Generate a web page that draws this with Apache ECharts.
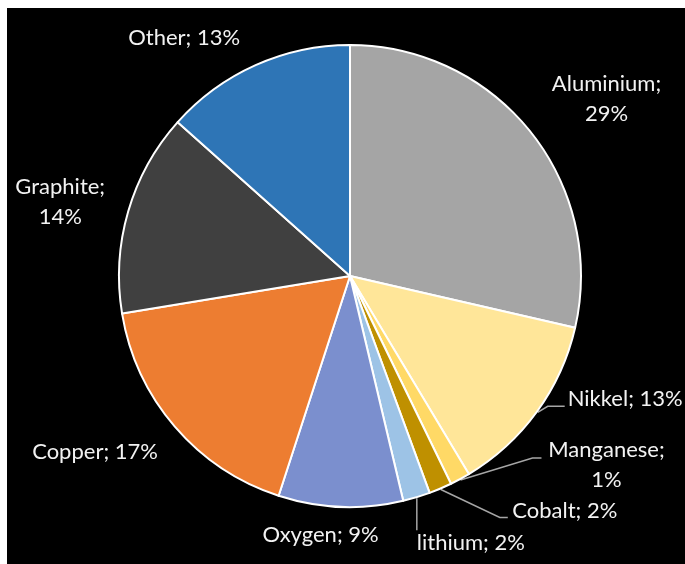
<!DOCTYPE html>
<html><head><meta charset="utf-8">
<script src="https://cdn.jsdelivr.net/npm/echarts@6/dist/echarts.min.js"></script>
<style>
html,body{margin:0;padding:0;background:#fff;width:685px;height:564px;overflow:hidden}
#bg{position:absolute;left:7px;top:8px;width:678px;height:556px;background:#000}
#chart{position:absolute;left:0;top:0;width:685px;height:564px}
</style></head><body>
<div id="bg"></div><div id="chart"></div>
<script>
// ---- data ----
const categories = ['Aluminium', 'Nikkel', 'Manganese', 'Cobalt', 'lithium', 'Oxygen', 'Copper', 'Graphite', 'Other'];
const values = [28.6, 12.8, 1.4, 1.6, 1.9, 8.7, 17.4, 14.2, 13.4];

// ---- style ----
const colors = ['#A5A5A5', '#FFE699', '#FFD966', '#BF9000', '#9DC3E6', '#7B8FCE', '#ED7D31', '#404040', '#2E75B6'];
const CX = 350, CY = 276, R = 231;
const wrapNames = ['Aluminium', 'Graphite', 'Manganese'];
// label anchor offset from the rim point at each slice's mid-angle
const labelOffsets = [[75, -33], [30, -13], [146, -15], [124, 21], [54, 45], [-20, 27], [-79, 25], [-67, -9], [-71, -26]];
const labelAligns = ['center', 'left', 'center', 'center', 'center', 'center', 'center', 'center', 'center'];
const hasLeader = [false, true, true, true, true, false, false, false, false];

const total = values.reduce((a, b) => a + b, 0);
const midAngles = [];
let acc = 0;
values.forEach(v => { midAngles.push((acc + v / 2) / total * 2 * Math.PI); acc += v; });
function rimPoint(i, r) {
  const a = midAngles[i];
  return [CX + r * Math.sin(a), CY - r * Math.cos(a)];
}

const chart = echarts.init(document.getElementById('chart'));
chart.setOption({
  backgroundColor: 'transparent',
  animation: false,
  series: [{
    type: 'pie',
    center: [CX, CY],
    radius: R,
    startAngle: 90,
    clockwise: true,
    avoidLabelOverlap: false,
    percentPrecision: 0,
    itemStyle: { borderColor: '#FFFFFF', borderWidth: 2 },
    label: {
      show: true,
      position: 'outside',
      overflow: 'none',
      color: '#F2F2F2',
      fontFamily: 'Lato',
      fontSize: 22,
      lineHeight: 30,
      formatter: p => p.name + (wrapNames.includes(p.name) ? ';\n' : '; ') + Math.round(p.value / total * 100) + '%'
    },
    labelLine: { lineStyle: { color: '#A6A6A6', width: 1.5 }, smooth: false },
    emphasis: { disabled: true },
    labelLayout: function (params) {
      const i = params.dataIndex;
      const rim = rimPoint(i, R + 1);
      const x = rim[0] + labelOffsets[i][0];
      const y = rim[1] + labelOffsets[i][1];
      const out = { x: x, y: y, align: labelAligns[i], verticalAlign: 'middle' };
      if (i === 1) out.labelLinePoints = [rim, [x - 20, y + 7], [x - 3, y + 7]];
      if (i === 2) out.labelLinePoints = [rim, [x - 74, y - 7], [x - 65, y - 7]];
      if (i === 3) out.labelLinePoints = [rim, [x - 65, y + 7], [x - 57, y + 7]];
      if (i === 4) out.labelLinePoints = [rim, [rim[0], y - 13]];
      return out;
    },
    data: categories.map((c, i) => ({
      name: c, value: values[i],
      itemStyle: { color: colors[i] },
      labelLine: { show: hasLeader[i] }
    }))
  }]
});
</script></body></html>
